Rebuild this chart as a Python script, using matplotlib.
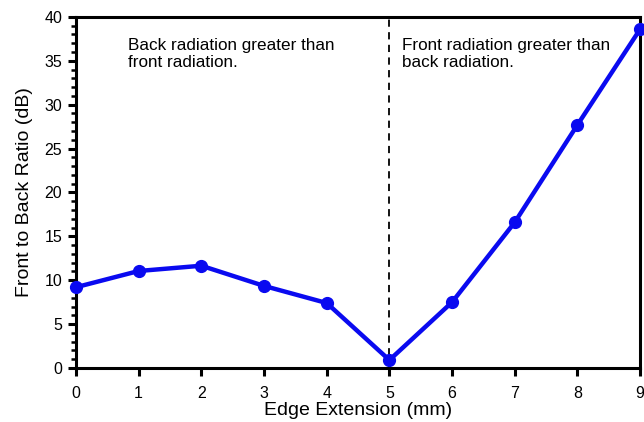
import matplotlib
matplotlib.use('Agg')
import matplotlib.pyplot as plt
from matplotlib.ticker import MultipleLocator

plt.rcParams['font.family'] = ['Liberation Sans', 'DejaVu Sans']

# edge extension (mm) vs front-to-back ratio (dB)
edge_mm = [0, 1, 2, 3, 4, 5, 6, 7, 8, 9]
fb_ratio = [9.2, 11.05, 11.65, 9.35, 7.4, 0.9, 7.5, 16.6, 27.7, 38.6]

split_x = 5
left_note = "Back radiation greater than\nfront radiation."
right_note = "Front radiation greater than\nback radiation."

fig = plt.figure(figsize=(6.44, 4.22), dpi=100)
ax = fig.add_axes([0.118, 0.128, 0.876, 0.832])

ax.plot(edge_mm, fb_ratio, color='#0a0af0', lw=3.2, marker='o', ms=8.5, zorder=3, clip_on=False)
ax.axvline(split_x, color='black', ls=(0, (4, 3)), lw=1.3, zorder=2)

ax.text(0.83, 37.6, left_note, fontsize=12.3, va='top', ha='left', linespacing=1.15)
ax.text(5.2, 37.6, right_note, fontsize=12.3, va='top', ha='left', linespacing=1.15)

ax.set_xlim(0, 9)
ax.set_ylim(0, 40)
ax.xaxis.set_major_locator(MultipleLocator(1))
ax.yaxis.set_major_locator(MultipleLocator(5))
ax.yaxis.set_minor_locator(MultipleLocator(1))

for sp in ax.spines.values():
    sp.set_linewidth(2.2)
ax.tick_params(axis='both', which='major', direction='out', length=6, width=2.2, labelsize=11.5)
ax.tick_params(axis='x', which='major', pad=7)
ax.tick_params(axis='y', which='major', pad=4)
ax.tick_params(axis='y', which='minor', direction='out', length=3.5, width=1.8)

ax.set_xlabel('Edge Extension (mm)', fontsize=14, labelpad=1)
ax.set_ylabel('Front to Back Ratio (dB)', fontsize=14, labelpad=8)

fig.savefig('out.png', dpi=100)
